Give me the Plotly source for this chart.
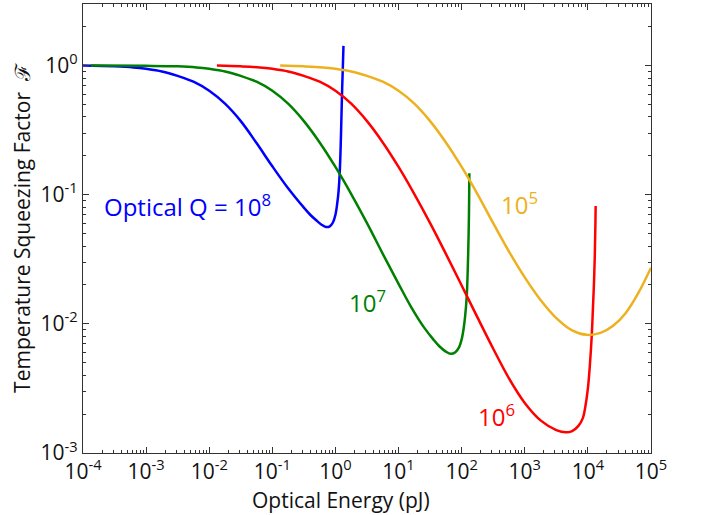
import plotly.graph_objects as go

# ---- data (Optical Energy in pJ, factor F) ----
q8_x = [1e-4, 3.162e-4, 6.31e-4, 1e-3, 1.778e-3, 3.162e-3, 5.623e-3, 0.01, 0.01778, 0.03162,
        0.05623, 0.1, 0.1778, 0.3162, 0.3981, 0.5012, 0.6026, 0.7079, 0.8128, 0.912,
        1.0, 1.072, 1.122, 1.169, 1.211, 1.247, 1.279, 1.312, 1.34]
q8_y = [1.0, 0.9863, 0.9683, 0.9441, 0.9016, 0.8318, 0.7499, 0.6383, 0.507, 0.3715,
        0.2512, 0.166, 0.1122, 0.0794, 0.06998, 0.0631, 0.05861, 0.05623, 0.05689, 0.06095,
        0.06998, 0.0871, 0.1072, 0.1479, 0.2399, 0.4169, 0.6761, 1.0, 1.422]

q7_x = [1.33e-4, 1e-3, 3.162e-3, 6.31e-3, 0.01, 0.01778, 0.03162, 0.05623, 0.1, 0.1778,
        0.3162, 0.5623, 1.0, 1.778, 3.162, 5.623, 10.0, 15.85, 25.12, 35.48,
        44.67, 56.23, 67.14, 79.43, 91.2, 100.0, 107.2, 113.5, 120.2, 124.5,
        127.6, 130.0, 131.5, 132.4]
q7_y = [1.0, 0.9954, 0.9863, 0.9683, 0.9441, 0.9016, 0.8318, 0.7499, 0.6383, 0.507,
        0.3715, 0.2541, 0.1641, 0.1012, 0.06026, 0.03486, 0.02042, 0.01349, 0.00944, 0.00759,
        0.00668, 0.0061, 0.00586, 0.00603, 0.00661, 0.00759, 0.00912, 0.01148, 0.01622, 0.02512,
        0.0398, 0.0631, 0.1, 0.1466]

q6_x = [0.01324, 0.03162, 0.0631, 0.1, 0.1778, 0.3162, 0.5623, 1.0, 1.778, 3.162,
        5.623, 10.0, 17.78, 31.62, 56.23, 100.0, 177.8, 316.2, 562.3, 1000,
        1778, 3162, 4467, 5623, 7079, 8318, 9120, 10000, 10715, 11482,
        12023, 12503, 12823, 13032, 13183, 13274]
q6_y = [1.0, 0.9863, 0.9683, 0.9441, 0.9016, 0.8318, 0.7499, 0.6383, 0.507, 0.3715,
        0.2541, 0.1641, 0.1012, 0.06026, 0.03486, 0.01984, 0.01122, 0.006418, 0.003781, 0.002441,
        0.001789, 0.001505, 0.001445, 0.001479, 0.001622, 0.001862, 0.002291, 0.003162, 0.004677, 0.007943,
        0.01318, 0.02089, 0.03162, 0.04677, 0.0631, 0.08166]

q5_x = [0.133, 0.3162, 0.631, 1.0, 1.778, 3.162, 5.623, 10.0, 17.78, 31.62,
        56.23, 100.0, 177.8, 316.2, 562.3, 1000, 1778, 3162, 5623, 9550,
        15850, 25120, 39810, 63100, 100000]
q5_y = [1.0, 0.9863, 0.9683, 0.9441, 0.9016, 0.8318, 0.7499, 0.6383, 0.507, 0.3715,
        0.2541, 0.1641, 0.1012, 0.06026, 0.03631, 0.02291, 0.01531, 0.01109, 0.00891, 0.00822,
        0.00851, 0.00966, 0.01216, 0.01738, 0.02723]

series_labels = ["Optical Q = 10<sup>8</sup>", "10<sup>7</sup>", "10<sup>6</sup>", "10<sup>5</sup>"]
series_colors = ["#0000FF", "#008000", "#FF0000", "#EDB120"]

x_tickvals = [1e-4, 1e-3, 1e-2, 1e-1, 1e0, 1e1, 1e2, 1e3, 1e4, 1e5]
x_ticktext = ["10<sup>-4</sup>", "10<sup>-3</sup>", "10<sup>-2</sup>", "10<sup>-1</sup>",
              "10<sup>0</sup>", "10<sup>1</sup>", "10<sup>2</sup>", "10<sup>3</sup>",
              "10<sup>4</sup>", "10<sup>5</sup>"]
y_tickvals = [1e-3, 1e-2, 1e-1, 1e0]
y_ticktext = ["10<sup>-3</sup>", "10<sup>-2</sup>", "10<sup>-1</sup>", "10<sup>0</sup>"]

x_title = "Optical Energy (pJ)"
y_title = "Temperature Squeezing Factor  \u2131"

FONT = "Open Sans"
AXC = "#333333"
TXT = "#111111"

fig = go.Figure()
for xs, ys, c, name in zip([q8_x, q7_x, q6_x, q5_x], [q8_y, q7_y, q6_y, q5_y],
                           series_colors, series_labels):
    fig.add_trace(go.Scatter(x=xs, y=ys, mode="lines", name=name,
                             line=dict(color=c, width=2.5, shape="spline", smoothing=1.0),
                             showlegend=False))

# label positions (log10 units on log axes)
label_pos = [(-3.7, -1.08), (0.19, -1.83), (2.23, -2.71), (2.59, -1.065)]
for (lx, ly), txt, c in zip(label_pos, series_labels, series_colors):
    fig.add_annotation(x=lx, y=ly, xref="x", yref="y", text=txt, showarrow=False,
                       xanchor="left", yanchor="middle",
                       font=dict(family=FONT, size=24, color=c))

# x-axis title (placed slightly left of centre, as in the reference)
fig.add_annotation(x=0.455, y=-0.068, xref="paper", yref="paper", text=x_title,
                   showarrow=False, xanchor="center", yanchor="top",
                   font=dict(family=FONT, size=21, color=TXT))

axis_common = dict(
    showline=True, linecolor=AXC, linewidth=1.2, mirror="allticks",
    ticks="inside", ticklen=6, tickcolor=AXC, tickwidth=1,
    showgrid=False, zeroline=False,
    tickfont=dict(family=FONT, size=21, color=TXT),
    minor=dict(ticks="inside", ticklen=3, tickcolor=AXC, dtick="D1", showgrid=False),
)

fig.update_xaxes(type="log", range=[-4, 5], tickvals=x_tickvals, ticktext=x_ticktext,
                 **axis_common)
fig.update_yaxes(type="log", range=[-3, 0.477], tickvals=y_tickvals, ticktext=y_ticktext,
                 title=dict(text=y_title, font=dict(family=FONT, size=21, color=TXT), standoff=4),
                 **axis_common)

fig.update_layout(width=704, height=515, plot_bgcolor="white", paper_bgcolor="white",
                  margin=dict(l=83, r=53, t=4, b=62, autoexpand=False),
                  font=dict(family=FONT))

fig.write_html("out.html", config={"displayModeBar": False},
               post_script="document.body.style.margin='0';")
